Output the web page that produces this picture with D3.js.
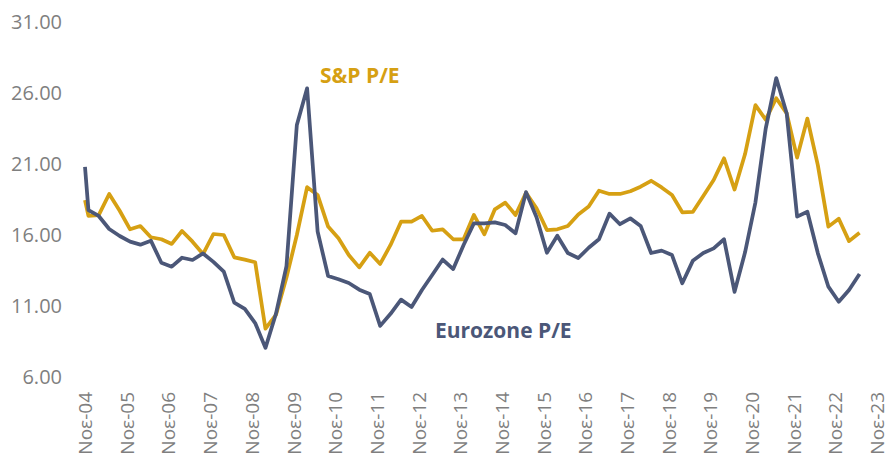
<!DOCTYPE html>
<html>
<head>
<meta charset="utf-8">
<script src="https://cdn.jsdelivr.net/npm/d3@7"></script>
<style>
  body { margin: 0; background: #fff; }
  .axis text { font-family: "Open Sans", sans-serif; fill: #7f7f7f; }
  .lbl { font-family: "Open Sans", sans-serif; font-weight: bold; font-size: 21px; }
</style>
</head>
<body>
<div id="chart"></div>
<script>
var dates = ["2004-11","2004-12",
  "2005-03","2005-06","2005-09","2005-12","2006-03","2006-06","2006-09","2006-12",
  "2007-03","2007-06","2007-09","2007-12","2008-03","2008-06","2008-09","2008-12",
  "2009-03","2009-06","2009-09","2009-12","2010-03","2010-06","2010-09","2010-12",
  "2011-03","2011-06","2011-09","2011-12","2012-03","2012-06","2012-09","2012-12",
  "2013-03","2013-06","2013-09","2013-12","2014-03","2014-06","2014-09","2014-12",
  "2015-03","2015-06","2015-09","2015-12","2016-03","2016-06","2016-09","2016-12",
  "2017-03","2017-06","2017-09","2017-12","2018-03","2018-06","2018-09","2018-12",
  "2019-03","2019-06","2019-09","2019-12","2020-03","2020-06","2020-09","2020-12",
  "2021-03","2021-06","2021-09","2021-12","2022-03","2022-06","2022-09","2022-12",
  "2023-03","2023-06"]

var eurozone = [20.8,17.76,17.34,16.42,15.93,15.53,15.32,15.6,14.05,13.77,
  14.4,14.24,14.7,14.11,13.42,11.23,10.8,9.8,8.05,10.45,
  13.8,23.75,26.33,16.25,13.11,12.88,12.62,12.15,11.84,9.6,
  10.45,11.45,10.93,12.13,13.18,14.27,13.6,15.3,16.82,16.82,
  16.89,16.7,16.12,19.02,17.25,14.75,15.95,14.73,14.38,15.1,
  15.7,17.5,16.76,17.17,16.64,14.73,14.9,14.59,12.6,14.18,
  14.73,15.06,15.7,12.0,14.78,18.3,23.5,27.05,24.56,17.29,
  17.64,14.71,12.36,11.3,12.13,13.25]

var sp = [18.46,17.34,17.4,18.89,17.71,16.4,16.63,15.84,15.7,15.37,
  16.28,15.53,14.66,16.07,16.0,14.43,14.27,14.08,9.4,10.37,
  13.0,16.0,19.37,18.82,16.59,15.77,14.59,13.72,14.75,13.96,
  15.3,16.94,16.94,17.34,16.3,16.4,15.7,15.7,17.41,16.05,
  17.81,18.28,17.41,18.98,17.88,16.35,16.4,16.63,17.45,18.0,
  19.12,18.89,18.89,19.08,19.4,19.82,19.35,18.82,17.6,17.62,
  18.75,19.87,21.4,19.2,21.7,25.15,24.12,25.63,24.57,21.45,
  24.2,20.9,16.59,17.15,15.57,16.16]

var yTicks = [6, 11, 16, 21, 26, 31]
var xTicks = ["2004-11","2005-11","2006-11","2007-11","2008-11","2009-11","2010-11",
  "2011-11","2012-11","2013-11","2014-11","2015-11","2016-11","2017-11","2018-11",
  "2019-11","2020-11","2021-11","2022-11","2023-11"]

var parse = d3.timeParse("%Y-%m")
var svg = d3.select("#chart").append("svg").attr("width", 889).attr("height", 461)

var x = d3.scaleTime().domain([parse("2004-11"), parse("2023-11")]).range([85, 877])
var y = d3.scaleLinear().domain([6, 31]).range([377, 22])

var yAxis = svg.append("g").attr("class", "axis").attr("transform", "translate(62,0)")
  .call(d3.axisLeft(y).tickValues(yTicks).tickFormat(d3.format(".2f")).tickSize(0).tickPadding(0))
yAxis.select(".domain").remove()
yAxis.selectAll("text").style("font-size", "20px")

var xAxis = svg.append("g").attr("class", "axis").attr("transform", "translate(0,392)")
  .call(d3.axisBottom(x).tickValues(xTicks.map(parse)).tickSize(0)
    .tickFormat(function(d) { return "Noε-" + d3.timeFormat("%y")(d) }))
xAxis.select(".domain").remove()
xAxis.selectAll("text")
  .style("font-size", "19px")
  .attr("text-anchor", "end")
  .attr("transform", "rotate(-90)")
  .attr("x", 0).attr("y", 0).attr("dy", "0.35em")

var line = function(vals) {
  return d3.line().x(function(d, i) { return x(parse(dates[i])) }).y(function(d) { return y(d) })(vals)
}

svg.append("path").attr("d", line(sp)).attr("fill", "none")
  .attr("stroke", "#d6a013").attr("stroke-width", 3.75).attr("stroke-linejoin", "round")
svg.append("path").attr("d", line(eurozone)).attr("fill", "none")
  .attr("stroke", "#4b5778").attr("stroke-width", 3.75).attr("stroke-linejoin", "round")

svg.append("text").attr("class", "lbl").attr("x", 320).attr("y", 83).attr("fill", "#d6a013").text("S&P P/E")
svg.append("text").attr("class", "lbl").attr("x", 435).attr("y", 338).attr("fill", "#4b5778").text("Eurozone P/E")
</script>
</body>
</html>
